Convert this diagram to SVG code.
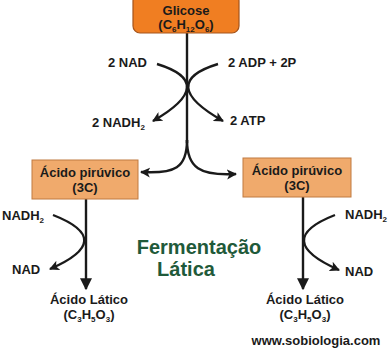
<svg xmlns="http://www.w3.org/2000/svg" width="388" height="350" viewBox="0 0 388 350">
<style>
  .t { font-family: "Liberation Sans", Arial, sans-serif; font-weight: bold; font-size: 13px; fill: #1a1a1a; }
  .sub { font-size: 8px; }
  .ln { fill: none; stroke: #1a1a1a; stroke-width: 2.4; }
  .title { font-family: "Liberation Sans", Arial, sans-serif; font-weight: bold; font-size: 20px; fill: #1f5a3a; }
</style>
<defs>
  <marker id="ah" viewBox="0 0 10 10" refX="9" refY="5" markerWidth="4.2" markerHeight="4.2" markerUnits="strokeWidth" orient="auto">
    <path d="M0,0 L10,5 L0,10 L2.5,5 Z" fill="#1a1a1a"/>
  </marker>
  <marker id="big" viewBox="0 0 10 10" refX="9" refY="5" markerWidth="5" markerHeight="5.6" markerUnits="strokeWidth" orient="auto">
    <path d="M0,0 L10,5 L0,10 Z" fill="#1a1a1a"/>
  </marker>
</defs>

<g id="connectors">
  <path class="ln" d="M187,33 L187,143"/>
  <path class="ln" d="M157,64 Q219,83 153,121" marker-end="url(#ah)"/>
  <path class="ln" d="M218,64 Q156,83 223,121" marker-end="url(#ah)"/>
  <path class="ln" d="M187,140 C187,168 175,174 141,172" marker-end="url(#ah)"/>
  <path class="ln" d="M187,140 C187,168 200,176 236,174" marker-end="url(#ah)"/>
  <path class="ln" d="M86,199 L86,289" marker-end="url(#big)"/>
  <path class="ln" d="M303,197 L303,289" marker-end="url(#big)"/>
  <path class="ln" d="M53,215 Q117,240 50,269" marker-end="url(#ah)"/>
  <path class="ln" d="M335,215 Q271,240 339,270" marker-end="url(#ah)"/>
</g>

<g id="glicose">
  <rect x="133" y="-6" width="106" height="39" rx="7" fill="#f07e22" stroke="#a4541c" stroke-width="1.2"/>
  <text class="t" x="186" y="15" text-anchor="middle">Glicose</text>
  <text class="t" x="186" y="29" text-anchor="middle">(C<tspan class="sub" dy="3">6</tspan><tspan dy="-3">H</tspan><tspan class="sub" dy="3">12</tspan><tspan dy="-3">O</tspan><tspan class="sub" dy="3">6</tspan><tspan dy="-3">)</tspan></text>
</g>

<g id="nad-top"><text class="t" x="108" y="67">2 NAD</text></g>
<g id="adp-top"><text class="t" x="228" y="67">2 ADP + 2P</text></g>
<g id="nadh2-top"><text class="t" x="92" y="127">2 NADH<tspan class="sub" dy="3">2</tspan></text></g>
<g id="atp-top"><text class="t" x="230" y="125">2 ATP</text></g>

<g id="piruvico-esq">
  <rect x="32" y="160" width="106" height="39" fill="#f0aa6c" stroke="#c07a40" stroke-width="1"/>
  <text class="t" x="85" y="177" text-anchor="middle">Ácido pirúvico</text>
  <text class="t" x="85" y="192" text-anchor="middle">(3C)</text>
</g>

<g id="piruvico-dir">
  <rect x="243" y="158" width="108" height="39" fill="#f0aa6c" stroke="#c07a40" stroke-width="1"/>
  <text class="t" x="297" y="175" text-anchor="middle">Ácido pirúvico</text>
  <text class="t" x="297" y="190" text-anchor="middle">(3C)</text>
</g>

<g id="nadh2-esq"><text class="t" x="2" y="220">NADH<tspan class="sub" dy="3">2</tspan></text></g>
<g id="nad-esq"><text class="t" x="12" y="274">NAD</text></g>
<g id="nadh2-dir"><text class="t" x="345" y="219">NADH<tspan class="sub" dy="3">2</tspan></text></g>
<g id="nad-dir"><text class="t" x="345" y="276">NAD</text></g>

<g id="latico-esq">
  <text class="t" x="89" y="304" text-anchor="middle">Ácido Lático</text>
  <text class="t" x="89" y="319" text-anchor="middle">(C<tspan class="sub" dy="3">3</tspan><tspan dy="-3">H</tspan><tspan class="sub" dy="3">5</tspan><tspan dy="-3">O</tspan><tspan class="sub" dy="3">3</tspan><tspan dy="-3">)</tspan></text>
</g>
<g id="latico-dir">
  <text class="t" x="305" y="304" text-anchor="middle">Ácido Lático</text>
  <text class="t" x="305" y="319" text-anchor="middle">(C<tspan class="sub" dy="3">3</tspan><tspan dy="-3">H</tspan><tspan class="sub" dy="3">5</tspan><tspan dy="-3">O</tspan><tspan class="sub" dy="3">3</tspan><tspan dy="-3">)</tspan></text>
</g>

<g id="titulo">
  <text class="title" x="199" y="254" text-anchor="middle">Fermentação</text>
  <text class="title" x="186" y="276" text-anchor="middle">Lática</text>
</g>

<g id="site"><text class="t" x="316" y="345" text-anchor="middle" font-size="13.4">www.sobiologia.com</text></g>
</svg>
